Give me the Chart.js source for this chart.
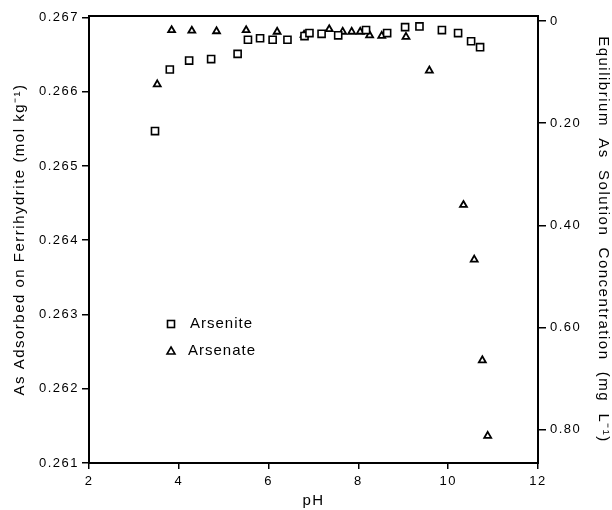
<!DOCTYPE html>
<html>
<head>
<meta charset="utf-8">
<script src="https://cdn.jsdelivr.net/npm/chart.js@4/dist/chart.umd.min.js"></script>
<style>
body { margin: 0; background: #fff; }
</style>
</head>
<body>
<canvas id="chart" width="612" height="510"></canvas>
<script>
// data
var arsenitePH = [3.47, 3.80, 4.23, 4.72, 5.31, 5.54, 5.81, 6.09, 6.42, 6.80, 6.91, 7.18, 7.55, 8.17, 8.64, 9.04, 9.36, 9.86, 10.22, 10.51, 10.71];
var arseniteAds = [0.26547, 0.26630, 0.26642, 0.26644, 0.26651, 0.26670, 0.26672, 0.26670, 0.26670, 0.26675, 0.26679, 0.26678, 0.26676, 0.26683, 0.26679, 0.26687, 0.26688, 0.26683, 0.26679, 0.26668, 0.26660];
var arsenatePH = [3.52, 3.84, 4.29, 4.84, 5.50, 6.19, 6.79, 7.35, 7.65, 7.85, 8.04, 8.25, 8.52, 9.06, 9.58, 10.34, 10.58, 10.76, 10.88];
var arsenateConc = [0.124, 0.018, 0.019, 0.020, 0.018, 0.021, 0.027, 0.016, 0.021, 0.021, 0.021, 0.028, 0.029, 0.031, 0.097, 0.360, 0.467, 0.664, 0.812];
var xTicks = [2, 4, 6, 8, 10, 12];
var leftTicks = [0.261, 0.262, 0.263, 0.264, 0.265, 0.266, 0.267];
var rightTicks = [0, 0.2, 0.4, 0.6, 0.8];

function toPoints(xs, ys) {
	var pts = [];
	for (var i = 0; i < xs.length; i++) {
		pts.push({x: xs[i], y: ys[i]});
	}
	return pts;
}

var family = "'Liberation Sans', Arial, sans-serif";
var font = {family: family, size: 13};
var titleFont = {family: family, size: 15};

// the scan has wide letter spacing, set it on the context before layout + draw
var spacingPlugin = {
	id: 'spacing',
	beforeUpdate: function(chart) { chart.ctx.letterSpacing = '1.5px'; },
	beforeDraw: function(chart) { chart.ctx.letterSpacing = '1.5px'; }
};

// box round the plot + legend inside it
var framePlugin = {
	id: 'frame',
	afterDraw: function(chart) {
		var ctx = chart.ctx, a = chart.chartArea;
		ctx.save();
		ctx.strokeStyle = '#000';
		ctx.lineWidth = 2;
		ctx.strokeRect(a.left, a.top, a.right - a.left, a.bottom - a.top);

		ctx.lineWidth = 1.6;
		ctx.fillStyle = '#000';
		ctx.font = "15px " + family;
		ctx.letterSpacing = '1px';
		ctx.textBaseline = 'middle';
		ctx.strokeRect(167.5, 320.5, 7, 7);
		ctx.fillText('Arsenite', 190, 324);
		ctx.beginPath();
		ctx.moveTo(171, 347);
		ctx.lineTo(175, 354);
		ctx.lineTo(167, 354);
		ctx.closePath();
		ctx.stroke();
		ctx.fillText('Arsenate', 188, 351);
		ctx.restore();
	}
};

new Chart(document.getElementById('chart'), {
	type: 'scatter',
	data: {
		datasets: [
			{
				label: 'Arsenite',
				data: toPoints(arsenitePH, arseniteAds),
				yAxisID: 'y',
				pointStyle: 'rect',
				pointRadius: 5,
				borderColor: '#000',
				backgroundColor: '#fff',
				borderWidth: 1.6
			},
			{
				label: 'Arsenate',
				data: toPoints(arsenatePH, arsenateConc),
				yAxisID: 'y2',
				pointStyle: 'triangle',
				pointRadius: 4,
				borderColor: '#000',
				backgroundColor: '#fff',
				borderWidth: 1.8
			}
		]
	},
	options: {
		responsive: false,
		animation: false,
		layout: {padding: {top: 16, right: 0, left: 0, bottom: 0}},
		plugins: {legend: {display: false}, tooltip: {enabled: false}},
		scales: {
			x: {
				type: 'linear',
				min: 2,
				max: 12,
				afterBuildTicks: function(scale) { scale.ticks = xTicks.map(function(v){ return {value: v}; }); },
				afterFit: function(scale) { scale.height = 47; },
				ticks: {color: '#000', font: font, padding: 5, maxRotation: 0,
					callback: function(v) { return v.toString(); }},
				grid: {drawOnChartArea: false, drawTicks: true, tickLength: 6, color: '#000', lineWidth: 1.5},
				border: {color: '#000', width: 2},
				title: {display: true, text: 'pH', color: '#000', font: titleFont, padding: {top: 0, bottom: 0}}
			},
			y: {
				position: 'left',
				min: 0.261,
				max: 0.26702,
				afterBuildTicks: function(scale) { scale.ticks = leftTicks.map(function(v){ return {value: v}; }); },
				afterFit: function(scale) { scale.width = 89; },
				ticks: {color: '#000', font: font, padding: 3,
					callback: function(v) { return v.toFixed(3); }},
				grid: {drawOnChartArea: false, drawTicks: true, tickLength: 7, color: '#000', lineWidth: 1.5},
				border: {color: '#000', width: 2},
				title: {display: true, text: 'As Adsorbed on Ferrihydrite (mol kg\u207B\u00B9)', color: '#000', font: titleFont, padding: {top: 11, bottom: 0}}
			},
			y2: {
				position: 'right',
				reverse: true,
				min: -0.0098,
				max: 0.865,
				afterBuildTicks: function(scale) { scale.ticks = rightTicks.map(function(v){ return {value: v}; }); },
				afterFit: function(scale) { scale.width = 74; },
				ticks: {color: '#000', font: font, padding: 4,
					callback: function(v) { return v === 0 ? '0' : v.toFixed(2); }},
				grid: {drawOnChartArea: false, drawTicks: true, tickLength: 8, color: '#000', lineWidth: 1.5},
				border: {color: '#000', width: 2},
				title: {display: true, text: 'Equilibrium  As  Solution  Concentration  (mg  L\u207B\u00B9)', color: '#000', font: titleFont, padding: {top: 0, bottom: 2}}
			}
		}
	},
	plugins: [spacingPlugin, framePlugin]
});
</script>
</body>
</html>
